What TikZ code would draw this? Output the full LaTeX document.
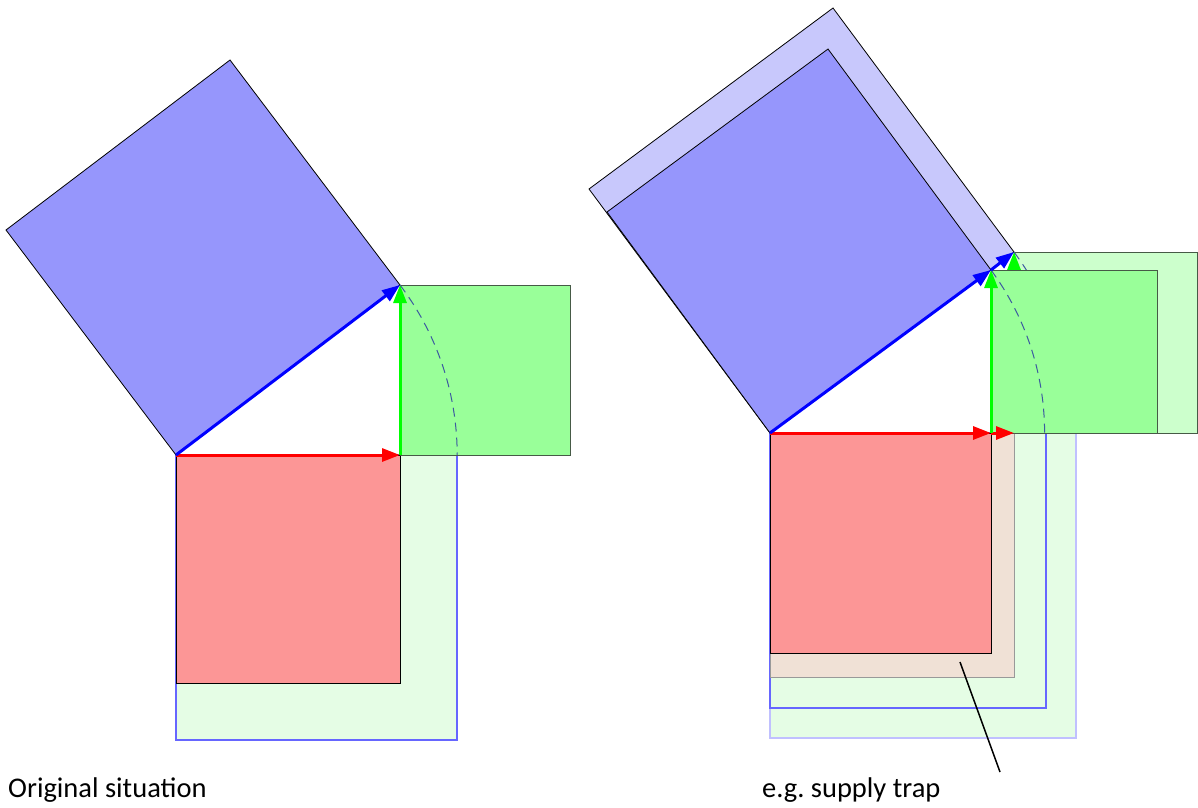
\documentclass[tikz,border=0pt]{standalone}
\usepackage{fontspec}
\setmainfont{Carlito}
\usetikzlibrary{arrows.meta}
\definecolor{bluesq}{RGB}{150,150,252}
\definecolor{bluelight}{RGB}{200,200,252}
\definecolor{redsq}{RGB}{252,150,150}
\definecolor{greensq}{RGB}{153,255,153}
\definecolor{greenlight}{RGB}{204,255,204}
\definecolor{palegreen}{RGB}{229,253,229}
\definecolor{beige}{RGB}{240,225,214}
\definecolor{edgeblue}{RGB}{102,102,255}
\definecolor{edgeblue2}{RGB}{192,192,255}
\definecolor{edgegreen}{RGB}{70,90,70}
\definecolor{arcblue}{RGB}{60,90,160}
\tikzset{
  sq/.style={line width=0.8pt, draw=black},
  vec/.style={line width=3pt, -{Triangle[length=18pt,width=13pt]}},
  arcdash/.style={draw=arcblue, line width=1pt, dash pattern=on 9pt off 6pt},
  lbl/.style={anchor=base west, inner sep=0pt, font=\fontsize{28.5}{34}\selectfont}
}
\begin{document}
\begin{tikzpicture}[x=1pt,y=-1pt]
\useasboundingbox (0,0) rectangle (1198,807);
% ---------- left figure ----------
\coordinate (O) at (176,455);
\coordinate (A) at (400,455);
\coordinate (P) at (400,285);
% big square c^2
\draw[fill=palegreen, draw=edgeblue, line width=1.6pt] (176,455) rectangle (457,740);
% red square
\draw[sq, fill=redsq] (176,455) rectangle (400,683);
% green square
\draw[sq, draw=edgegreen, fill=greensq] (400,285) rectangle (570,455);
% blue square
\draw[sq, fill=bluesq] (O) -- (P) -- (230,60) -- (6,230) -- cycle;
% arc
\draw[arcdash] plot[domain=37.19:0, samples=40] ({176+281.2*cos(\x)},{455-281.2*sin(\x)});
% vectors
\draw[vec, draw=red, fill=red] (O) -- (A);
\draw[vec, draw=green, fill=green] (A) -- (P);
\draw[vec, draw=blue, fill=blue] (O) -- (P);
\node[lbl] (t1) at (8,797) {Original situation};
% ---------- right figure ----------
\coordinate (O2) at (770,433);
\coordinate (A2) at (991,433);
\coordinate (P2) at (991,270);
\coordinate (B2) at (1014,433);
\coordinate (Q2) at (1014,252);
\coordinate (Q2low) at (1014,433);
% outer big square
\draw[fill=palegreen, draw=edgeblue2, line width=1.6pt] (770,433) rectangle (1076,738);
% inner big square
\draw[fill=palegreen, draw=edgeblue, line width=1.6pt] (770,433) rectangle (1046,708);
% beige (grown red) square
\draw[fill=beige, draw=black!40, line width=0.8pt] (770,433) rectangle (1014,677);
% red square
\draw[sq, fill=redsq] (770,433) rectangle (991,653);
% outer green square
\draw[line width=0.8pt, draw=edgegreen, fill=greenlight] (1014,252) rectangle (1197,433);
% outer blue square
\draw[sq, fill=bluelight] (O2) -- (Q2) -- (833,8) -- (589,189) -- cycle;
% outer arc
\draw[arcdash] plot[domain=36.57:0, samples=40] ({770+303.8*cos(\x)},{433-303.8*sin(\x)});
% outer green vector (shaft hidden)
\draw[vec, draw=green, fill=green] (Q2low) -- (Q2);
% inner green square
\draw[sq, draw=edgegreen, fill=greensq] (991,270) rectangle (1157,433);
% inner blue square
\draw[sq, fill=bluesq] (O2) -- (P2) -- (828,49) -- (607,212) -- cycle;
% inner arc
\draw[arcdash] plot[domain=36.41:0, samples=40] ({770+274.6*cos(\x)},{433-274.6*sin(\x)});
% vectors
\draw[vec, draw=red, fill=red] (O2) -- (A2);
\draw[vec, draw=red, fill=red] (A2) -- (B2);
\draw[vec, draw=green, fill=green] (A2) -- (P2);
\draw[vec, draw=blue, fill=blue] (O2) -- (P2);
\draw[vec, draw=blue, fill=blue] (P2) -- (Q2);
% pointer
\coordinate (ptr) at (960,662);
\coordinate (ptrend) at (1000,772);
\draw[line width=1.5pt] (ptr) -- (ptrend);
\node[lbl] (t2) at (762,797) {e.g.\ supply trap};
\end{tikzpicture}
\end{document}
